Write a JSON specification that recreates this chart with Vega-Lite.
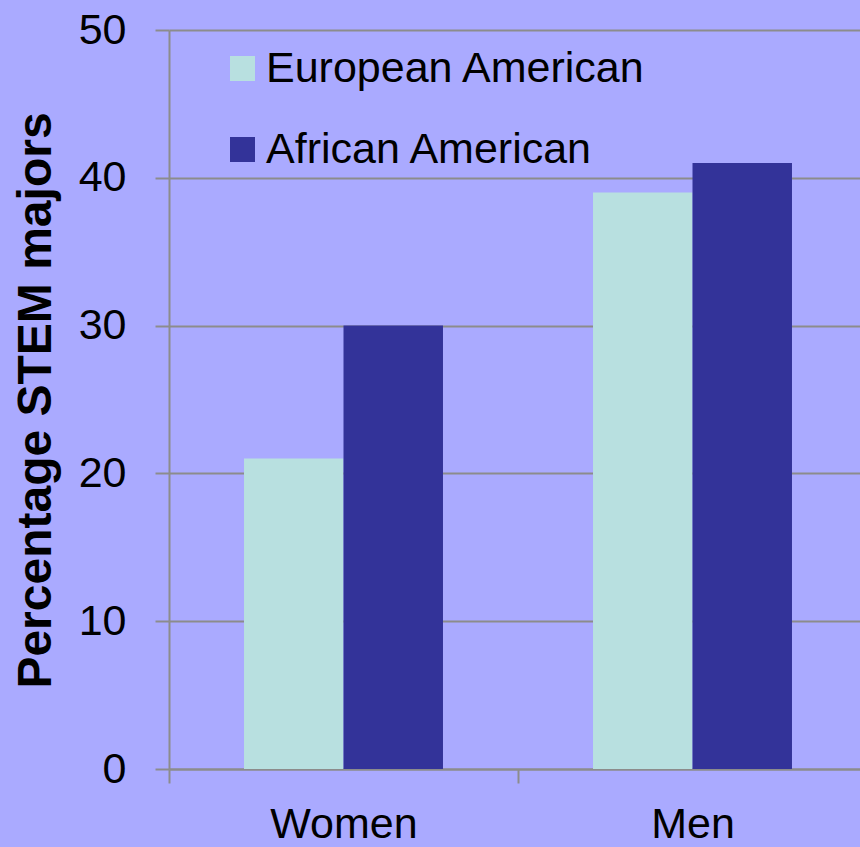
{
  "$schema": "https://vega.github.io/schema/vega-lite/v6.json",
  "width": 698,
  "height": 739,
  "autosize": {"type": "none"},
  "padding": {"left": 169, "top": 30, "right": 0, "bottom": 78},
  "background": "#AAAAFF",
  "config": {"view": {"stroke": null}},
  "data": {
    "values": [
      {"gender": "Women", "group": "European American", "pct": 21},
      {"gender": "Women", "group": "African American", "pct": 30},
      {"gender": "Men", "group": "European American", "pct": 39},
      {"gender": "Men", "group": "African American", "pct": 41}
    ]
  },
  "mark": {"type": "bar"},
  "encoding": {
    "x": {
      "field": "gender",
      "type": "nominal",
      "sort": ["Women", "Men"],
      "scale": {"paddingInner": 0, "paddingOuter": 0},
      "axis": {
        "title": null,
        "labelAngle": 0,
        "labelFont": "Liberation Sans",
        "labelFontWeight": "normal",
        "labelFontSize": 43,
        "labelColor": "black",
        "labelPadding": 20,
        "tickBand": "extent",
        "tickSize": 14,
        "tickColor": "#8C8C8C",
        "tickWidth": 2,
        "domainColor": "#8C8C8C",
        "domainWidth": 2,
        "grid": false
      }
    },
    "xOffset": {
      "field": "group",
      "type": "nominal",
      "sort": ["European American", "African American"],
      "scale": {"paddingInner": 0, "paddingOuter": 0.754}
    },
    "y": {
      "field": "pct",
      "type": "quantitative",
      "scale": {"domain": [0, 50], "nice": false},
      "axis": {
        "title": "Percentage STEM majors",
        "titleFont": "Liberation Sans",
        "titleFontWeight": "bold",
        "titleFontSize": 48,
        "titleColor": "black",
        "titleX": -133,
        "titleY": 370,
        "titleAngle": -90,
        "titleAlign": "center",
        "titleBaseline": "middle",
        "values": [0, 10, 20, 30, 40, 50],
        "labelFont": "Liberation Sans",
        "labelFontWeight": "normal",
        "labelFontSize": 43,
        "labelColor": "black",
        "labelPadding": 29,
        "tickSize": 14,
        "tickColor": "#8C8C8C",
        "tickWidth": 2,
        "domainColor": "#8C8C8C",
        "domainWidth": 2,
        "grid": true,
        "gridColor": "#8C8C8C",
        "gridWidth": 2
      }
    },
    "color": {
      "field": "group",
      "type": "nominal",
      "sort": ["European American", "African American"],
      "scale": {"domain": ["European American", "African American"], "range": ["#B8E0E0", "#333399"]},
      "legend": {
        "title": null,
        "orient": "none",
        "legendX": 52,
        "legendY": 17,
        "padding": 0,
        "symbolType": "square",
        "symbolSize": 625,
        "symbolStrokeWidth": 0,
        "labelFont": "Liberation Sans",
        "labelFontWeight": "normal",
        "labelFontSize": 43,
        "labelColor": "black",
        "labelOffset": 2,
        "labelLimit": 600,
        "rowPadding": 37
      }
    }
  }
}
